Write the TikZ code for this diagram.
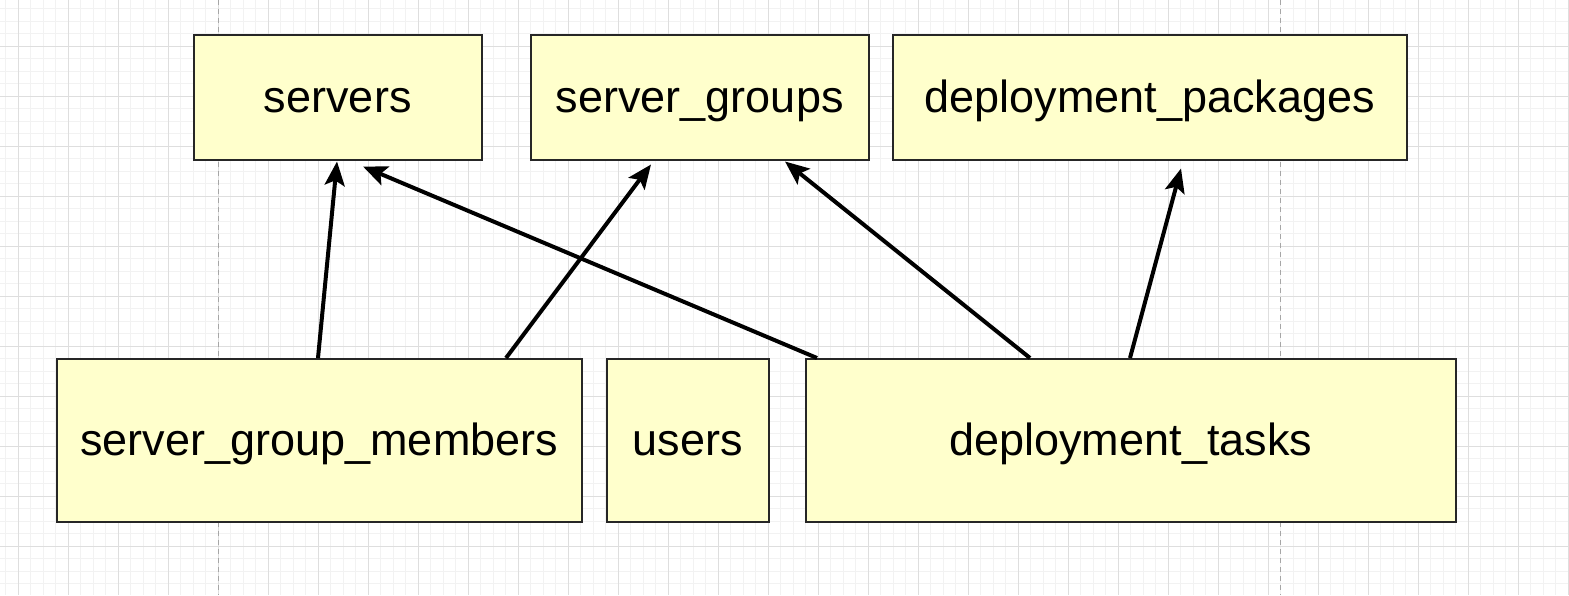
\documentclass[tikz,border=0pt]{standalone}
\usepackage{fontspec}
\setmainfont{Liberation Sans}
\usetikzlibrary{arrows.meta,calc}
\definecolor{tblfill}{HTML}{FFFFCC}
\definecolor{gridminor}{HTML}{F2F2F2}
\definecolor{gridmajor}{HTML}{DEDEDE}
\begin{document}
\begin{tikzpicture}[x=1pt,y=-1pt,
  tbl/.style={draw=black!85,line width=1.5pt,fill=tblfill,anchor=north west,inner sep=0pt,text height=30pt,text depth=0pt,font=\fontsize{45}{50}\selectfont},
  fk/.style={line width=4pt,-{Stealth[length=24pt,width=20pt,inset=5pt]}},
  gminor/.style={draw=gridminor,line width=1pt},
  gmajor/.style={draw=gridmajor,line width=1pt},
  pagebreak/.style={draw=black!35,line width=1pt,dash pattern=on 5pt off 4pt}]
\useasboundingbox[fill=white] (0,0) rectangle (1569,595);
\begin{scope}
\clip (0,0) rectangle (1569,595);
\foreach \gx in {5.5,18,...,1569} \draw[gminor] (\gx,0) -- (\gx,595);
\foreach \gy in {8.5,21,...,595} \draw[gminor] (0,\gy) -- (1569,\gy);
\foreach \gx in {18,68,...,1569} \draw[gmajor] (\gx,0) -- (\gx,595);
\foreach \gy in {46,96,...,595} \draw[gmajor] (0,\gy) -- (1569,\gy);
\draw[pagebreak] (218,0) -- (218,595);
\draw[pagebreak] (1280,0) -- (1280,595);
\end{scope}

\node[tbl,minimum width=288pt,minimum height=125pt] (servers) at (193,34) {servers};
\node[tbl,minimum width=338pt,minimum height=125pt] (sgroups) at (530,34) {server\_groups};
\node[tbl,minimum width=514pt,minimum height=125pt] (dpkg) at (892,34) {deployment\_packages};
\node[tbl,minimum width=525pt,minimum height=163pt] (sgm) at (56,358) {server\_group\_members};
\node[tbl,minimum width=162pt,minimum height=163pt] (users) at (606,358) {users};
\node[tbl,minimum width=650pt,minimum height=163pt] (dtask) at (805,358) {deployment\_tasks};

\draw[fk] ([xshift=262pt]sgm.north west) -- ([xshift=144pt,yshift=-1pt]servers.south west);
\draw[fk] ([xshift=450pt]sgm.north west) -- ([xshift=121pt,yshift=-4pt]sgroups.south west);
\draw[fk] ([xshift=12pt]dtask.north west) -- ([xshift=170pt,yshift=-6pt]servers.south west);
\draw[fk] ([xshift=225pt]dtask.north west) -- ([xshift=255pt,yshift=-1pt]sgroups.south west);
\draw[fk] ([xshift=325pt]dtask.north west) -- ([xshift=289pt,yshift=-8pt]dpkg.south west);
\end{tikzpicture}
\end{document}
